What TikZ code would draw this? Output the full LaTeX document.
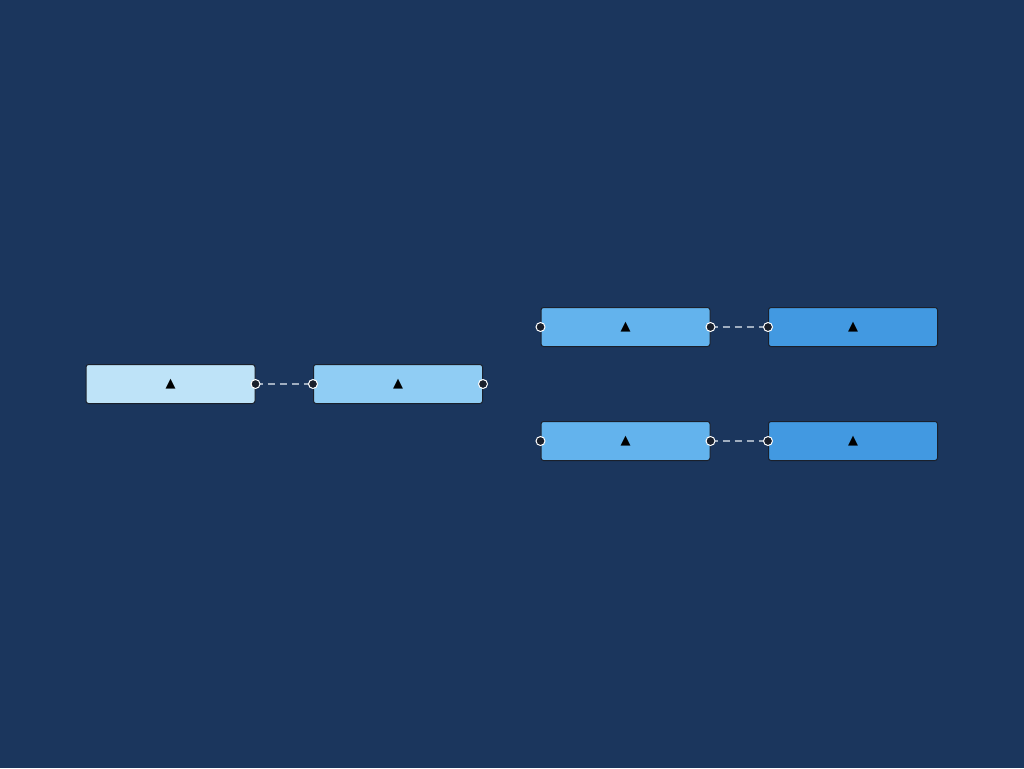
\documentclass[tikz,border=0pt]{standalone}
\usepackage{fontspec}
\newfontfamily\symfont{DejaVu Sans}
\definecolor{bg}{HTML}{1B365D}
\definecolor{cA}{HTML}{BEE3F8}
\definecolor{cB}{HTML}{90CDF4}
\definecolor{cC}{HTML}{63B3ED}
\definecolor{cD}{HTML}{4299E1}
\definecolor{edge}{HTML}{A0AEC0}
\definecolor{dark}{HTML}{1A202C}
\tikzset{
  box/.style={draw=dark, line width=1pt, rounded corners=2.5pt, minimum width=169pt, minimum height=39pt, inner sep=0pt, font=\symfont\fontsize{13}{15}\selectfont},
  port/.style={circle, draw=white, fill=dark, line width=1pt, minimum size=9pt, inner sep=0pt},
  link/.style={draw=edge, dash pattern=on 7pt off 5pt, line width=1.6pt},
}
\begin{document}
\begin{tikzpicture}[x=1pt,y=-1pt]
\fill[bg] (0,0) rectangle (1024,768);
\useasboundingbox (0,0) rectangle (1024,768);
\node[box, fill=cA] (a) at (170.5,384) {▲};
\node[box, fill=cB] (b) at (398,384) {▲};
\node[box, fill=cC] (c) at (625.5,327) {▲};
\node[box, fill=cD] (d) at (853,327) {▲};
\node[box, fill=cC] (e) at (625.5,441) {▲};
\node[box, fill=cD] (f) at (853,441) {▲};
\draw[link] (a.east) -- (b.west);
\draw[link] (c.east) -- (d.west);
\draw[link] (e.east) -- (f.west);
\node[port] (aR) at (a.east) {};
\node[port] (bL) at (b.west) {};
\node[port] (bR) at (b.east) {};
\node[port] (cL) at (c.west) {};
\node[port] (cR) at (c.east) {};
\node[port] (dL) at (d.west) {};
\node[port] (eL) at (e.west) {};
\node[port] (eR) at (e.east) {};
\node[port] (fL) at (f.west) {};
\end{tikzpicture}
\end{document}
